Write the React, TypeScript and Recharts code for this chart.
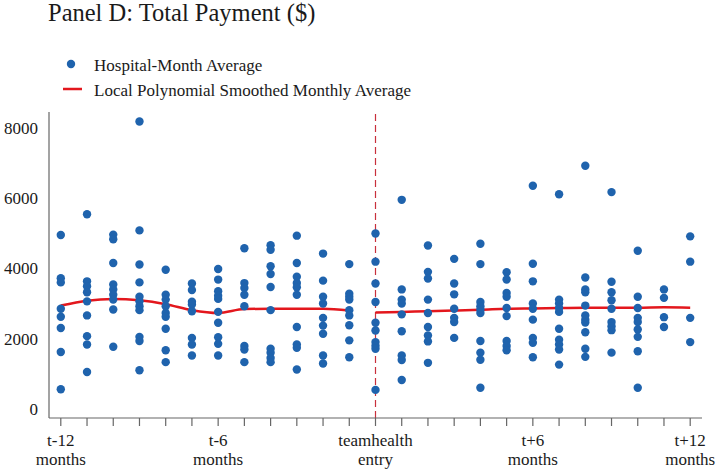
import React from "react";
import {
  ComposedChart,
  Scatter,
  Line,
  XAxis,
  YAxis,
  ReferenceLine,
} from "recharts";

const months: number[] = [-12, -11, -10, -9, -8, -7, -6, -5, -4, -3, -2, -1, 0, 1, 2, 3, 4, 5, 6, 7, 8, 9, 10, 11, 12];

const hospitalMonthValues: number[][] = [
  [4950, 3720, 3600, 2850, 2620, 2300, 1620, 560],
  [5540, 3630, 3490, 3320, 3060, 2660, 2070, 1830, 1050],
  [4960, 4830, 4150, 3540, 3400, 3250, 3110, 2830, 1770],
  [8180, 5080, 4110, 3600, 3190, 3060, 2920, 2810, 2050, 1930, 1100],
  [3960, 3250, 3110, 2920, 2730, 2620, 2280, 1670, 1330],
  [3570, 3380, 3050, 2970, 2780, 2020, 1830, 1520],
  [3980, 3680, 3350, 3220, 3130, 2760, 2450, 2040, 1850, 1520],
  [4570, 3580, 3440, 3250, 2920, 1790, 1690, 1330],
  [4660, 4530, 4060, 3840, 3470, 2810, 1710, 1600, 1450, 1330],
  [4930, 4150, 3760, 3580, 3460, 3250, 2330, 1830, 1740, 1120],
  [4420, 3650, 3190, 3000, 2590, 2370, 2140, 1520, 1290],
  [4120, 3280, 3190, 3110, 2810, 2660, 2380, 1950, 1470],
  [4990, 4190, 3570, 3040, 2450, 2230, 1900, 1800, 1710, 540],
  [5950, 3400, 3110, 3000, 2690, 2210, 1520, 1390, 820],
  [4650, 3900, 3710, 3110, 2730, 2330, 2090, 1920, 1310],
  [4270, 3570, 3260, 2850, 2590, 2470, 2020],
  [4700, 4120, 3040, 2920, 2830, 2730, 1930, 1600, 1400, 600],
  [3890, 3680, 3300, 3190, 2870, 2640, 1930, 1790, 1670],
  [6350, 4130, 3630, 3000, 2850, 2540, 2020, 1880, 1470],
  [6110, 3110, 3000, 2870, 2760, 2280, 1970, 1830, 1690, 1260],
  [6920, 3740, 3400, 3320, 2940, 2660, 2540, 2460, 2180, 1710, 1480],
  [6170, 3620, 3320, 3090, 2850, 2470, 2350, 2240, 1600],
  [4500, 3190, 2870, 2590, 2470, 2260, 2050, 1640, 600],
  [3400, 3160, 2610, 2330],
  [4910, 4190, 2590, 1900],
];

const preMonths: number[] = [-12, -11, -10, -9, -8, -7, -6, -5, -4, -3, -2, -1];
const preSmoothed: number[] = [2940, 3080, 3130, 3090, 2980, 2810, 2730, 2840, 2850, 2850, 2850, 2800];
const postMonths: number[] = [0, 1, 2, 3, 4, 5, 6, 7, 8, 9, 10, 11, 12];
const postSmoothed: number[] = [2740, 2760, 2780, 2800, 2820, 2850, 2860, 2870, 2880, 2880, 2880, 2890, 2880];

const yTicks: number[] = [0, 2000, 4000, 6000, 8000];
const xLabels: Record<number, [string, string]> = {
  [-12]: ["t-12", "months"],
  [-6]: ["t-6", "months"],
  [0]: ["teamhealth", "entry"],
  [6]: ["t+6", "months"],
  [12]: ["t+12", "months"],
};

const title = "Panel D: Total Payment ($)";
const legendPoints = "Hospital-Month Average";
const legendLine = "Local Polynomial Smoothed Monthly Average";

const FONT = "'Liberation Serif', 'Times New Roman', serif";
const BLUE = "#1f63ad";
const RED = "#e3171d";
const TEXT = "#1a1a1a";
const AXIS = "#666666";

const scatterData = months.flatMap((m, i) =>
  hospitalMonthValues[i].map((v) => ({ x: m, y: v }))
);
const preData = preMonths.map((m, i) => ({ x: m, y: preSmoothed[i] }));
const postData = postMonths.map((m, i) => ({ x: m, y: postSmoothed[i] }));

const XTick = (props: any) => {
  const { x, y, payload } = props;
  const lab = xLabels[payload.value];
  if (!lab) return null;
  return (
    <text x={x} y={y} textAnchor="middle" fontFamily={FONT} fontSize={17} fill={TEXT}>
      <tspan x={x} dy={18}>{lab[0]}</tspan>
      <tspan x={x} dy={19}>{lab[1]}</tspan>
    </text>
  );
};

const Dot = (props: any) => {
  const { cx, cy } = props;
  if (cx == null || cy == null) return null;
  return <circle cx={cx} cy={cy} r={4.2} fill={BLUE} />;
};

export default function App() {
  return (
    <div style={{ position: "absolute", left: 0, top: 0, width: 719, height: 469, background: "#fff", fontFamily: FONT }}>
      <div style={{ position: "absolute", left: 48, top: 1, fontSize: 24.5, lineHeight: "24.5px", color: TEXT, whiteSpace: "nowrap" }}>
        {title}
      </div>
      <svg style={{ position: "absolute", left: 0, top: 0 }} width={120} height={110}>
        <circle cx={71} cy={64} r={4.2} fill={BLUE} />
        <line x1={63} x2={82} y1={89} y2={89} stroke={RED} strokeWidth={2.5} />
      </svg>
      <div style={{ position: "absolute", left: 94, top: 57, fontSize: 17, lineHeight: "17px", color: TEXT, whiteSpace: "nowrap" }}>
        {legendPoints}
      </div>
      <div style={{ position: "absolute", left: 94, top: 82, fontSize: 17, lineHeight: "17px", color: TEXT, whiteSpace: "nowrap" }}>
        {legendLine}
      </div>
      <div style={{ position: "absolute", left: 0, top: 0 }}>
        <ComposedChart width={719} height={469} margin={{ top: 112, right: 17, bottom: 0, left: 0 }}>
          <XAxis
            dataKey="x"
            type="number"
            domain={[-12.45, 12.45]}
            ticks={months}
            interval={0}
            allowDataOverflow
            height={51}
            tickSize={8}
            tickMargin={2}
            axisLine={{ stroke: AXIS, strokeWidth: 1.2 }}
            tickLine={{ stroke: AXIS, strokeWidth: 1.2 }}
            tick={<XTick />}
          />
          <YAxis
            dataKey="y"
            type="number"
            domain={[-260, 8450]}
            ticks={yTicks}
            allowDataOverflow
            width={49}
            tickSize={0}
            tickMargin={11}
            tickLine={false}
            axisLine={{ stroke: AXIS, strokeWidth: 1.2 }}
            tick={{ fontFamily: FONT, fontSize: 17, fill: TEXT }}
          />
          <ReferenceLine x={0} stroke="#c8303c" strokeWidth={1.2} strokeDasharray="7 4" />
          <Scatter data={scatterData} shape={<Dot />} isAnimationActive={false} />
          <Line data={preData} dataKey="y" type="monotone" stroke={RED} strokeWidth={2.5} dot={false} activeDot={false} isAnimationActive={false} />
          <Line data={postData} dataKey="y" type="monotone" stroke={RED} strokeWidth={2.5} dot={false} activeDot={false} isAnimationActive={false} />
        </ComposedChart>
      </div>
    </div>
  );
}
